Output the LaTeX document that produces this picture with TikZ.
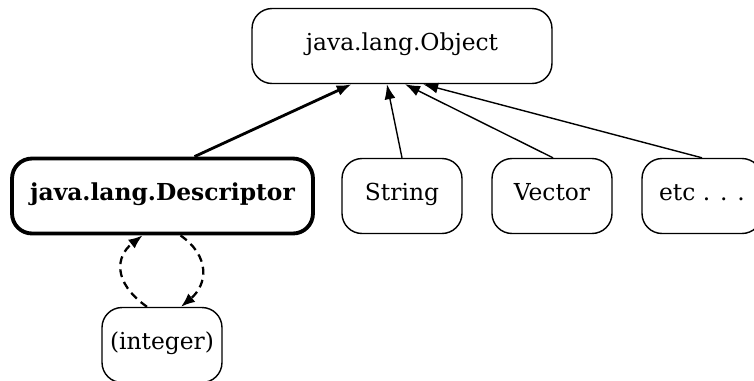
\documentclass[tikz,border=0pt]{standalone}
\usepackage{fontspec}
\setmainfont{DejaVu Serif}
\usepackage{tikz}
\usetikzlibrary{calc,positioning,arrows.meta}

\tikzset{
  classbox/.style={draw, rounded corners=0.4cm, line width=0.8pt,
                   minimum height=1.5cm, align=center,
                   text height=1.5ex, text depth=0.45ex,
                   font=\fontsize{13.3}{16}\selectfont},
  mainbox/.style={classbox, line width=2.2pt, font=\fontsize{13.3}{16}\selectfont\bfseries},
  isa/.style={-{Latex[length=0.3cm,width=0.22cm]}, line width=0.8pt},
  isamain/.style={isa, line width=1.6pt},
  refers/.style={-{Latex[length=0.28cm,width=0.22cm]}, dashed, line width=1.3pt,
                 dash pattern=on 4.5pt off 3pt}
}

\begin{document}
\begin{tikzpicture}[x=0.02cm, y=-0.02cm]
    \useasboundingbox (0,0) rectangle (754,380);
    % the class tree
    \node[classbox, minimum width=6cm]   (obj)  at (402,46)    {java.lang.Object};
    \node[mainbox, minimum width=6.02cm] (desc) at (162.5,196) {java.lang.Descriptor};
    \node[classbox, minimum width=2.4cm] (str)  at (402,196)   {String};
    \node[classbox, minimum width=2.4cm] (vec)  at (552,196)   {Vector};
    \node[classbox, minimum width=2.4cm] (etc)  at (702,196)   {etc . . .};
    \node[classbox, minimum width=2.4cm] (int)  at (162,345)   {(integer)};

    \draw[isamain] ($(desc.north)+(32,0)$) -- ($(obj.south west)!0.333!(obj.south east)$);
    \draw[isa] (str.north) -- ($(obj.south west)!0.45!(obj.south east)$);
    \draw[isa] ($(vec.north)+(1,0)$) -- ($(obj.south west)!0.51!(obj.south east)$);
    \draw[isa] (etc.north) -- ($(obj.south west)!0.57!(obj.south east)$);

    % descriptor <-> integer
    \draw[refers] ($(int.north)+(-15,0)$) .. controls (112,282) and (116,256) .. ($(desc.south)+(-20,0)$);
    \draw[refers] ($(desc.south)+(18,0)$) .. controls (210,256) and (208,284) .. ($(int.north)+(19,0)$);
\end{tikzpicture}
\end{document}
